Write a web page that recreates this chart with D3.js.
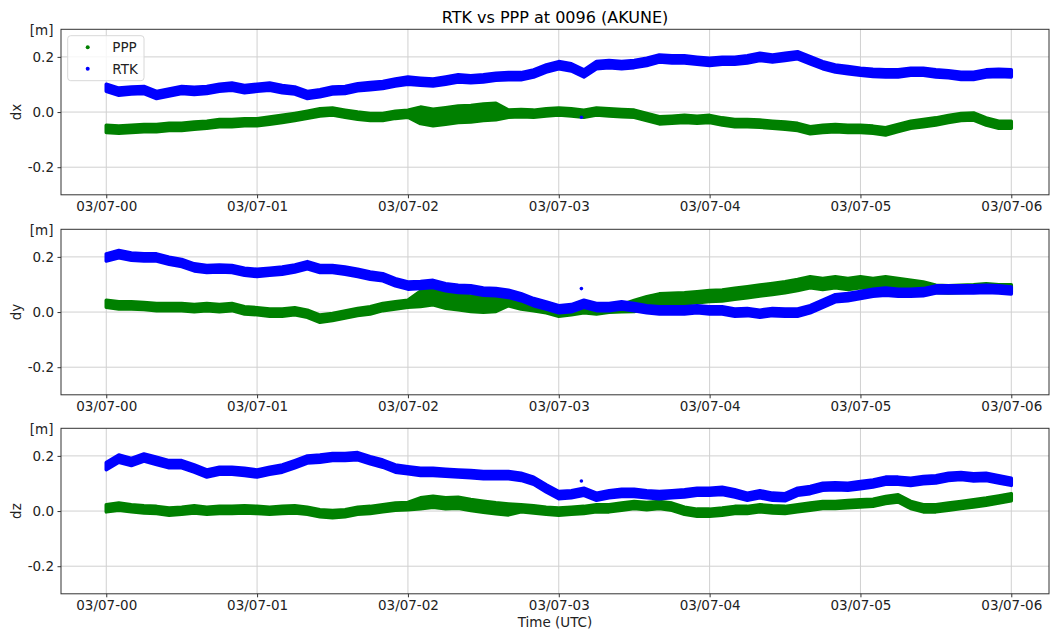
<!DOCTYPE html>
<html>
<head>
<meta charset="utf-8">
<script src="https://cdn.jsdelivr.net/npm/d3@7"></script>
<style>
body{margin:0;background:#fff}
svg{font-family:"DejaVu Sans",sans-serif}
</style>
</head>
<body>
<svg id="chart"></svg>
<script>
let width = 1050, height = 631

// samples every 5 minutes, 03/07 00:00 .. 06:00 UTC
const stepMin = 5
const panels = ["dx", "dy", "dz"]
const seriesNames = ["PPP", "RTK"]

const dxPPP = [-0.061,-0.064,-0.061,-0.058,-0.058,-0.054,-0.054,-0.049,-0.046,-0.040,-0.040,-0.037,-0.037,-0.031,-0.025,-0.018,-0.010,-0.001,0.002,-0.006,-0.013,-0.018,-0.018,-0.010,-0.006,-0.012,-0.020,-0.014,-0.008,-0.006,-0.001,0.002,-0.006,-0.004,-0.006,-0.001,0.002,
  -0.001,-0.006,0.002,-0.001,-0.004,-0.006,-0.018,-0.030,-0.028,-0.025,-0.028,-0.025,-0.034,-0.040,-0.040,-0.042,-0.046,-0.049,-0.054,-0.066,-0.061,-0.058,-0.061,-0.061,-0.064,-0.070,-0.058,-0.046,-0.040,-0.034,-0.025,-0.018,-0.016,-0.034,-0.046,-0.046]
const dxRTK = [0.088,0.074,0.078,0.080,0.062,0.071,0.080,0.077,0.080,0.088,0.092,0.083,0.088,0.092,0.083,0.078,0.062,0.068,0.078,0.080,0.090,0.094,0.098,0.107,0.114,0.110,0.107,0.114,0.122,0.119,0.122,0.128,0.130,0.130,0.140,0.158,0.170,
  0.162,0.140,0.170,0.174,0.170,0.174,0.182,0.194,0.191,0.191,0.186,0.182,0.186,0.186,0.191,0.200,0.194,0.200,0.206,0.188,0.170,0.158,0.152,0.146,0.142,0.140,0.140,0.146,0.146,0.140,0.137,0.131,0.131,0.140,0.142,0.140]
const dyPPP = [0.030,0.024,0.024,0.022,0.018,0.018,0.018,0.014,0.018,0.014,0.018,0.006,0.003,-0.002,-0.002,0.003,-0.006,-0.024,-0.018,-0.009,0.000,0.006,0.018,0.024,0.030,0.048,0.054,0.042,0.036,0.030,0.027,0.030,0.036,0.024,0.018,0.010,-0.002,
  0.003,0.010,0.006,0.012,0.014,0.022,0.036,0.046,0.048,0.050,0.054,0.058,0.060,0.066,0.072,0.078,0.084,0.090,0.098,0.108,0.102,0.108,0.102,0.108,0.102,0.108,0.102,0.102,0.096,0.084,0.082,0.084,0.086,0.090,0.086,0.086]
const dyRTK = [0.198,0.210,0.201,0.198,0.198,0.186,0.178,0.162,0.156,0.158,0.156,0.146,0.142,0.146,0.150,0.158,0.170,0.156,0.156,0.150,0.142,0.132,0.126,0.108,0.096,0.098,0.102,0.090,0.084,0.082,0.074,0.072,0.066,0.054,0.036,0.024,0.010,
  0.014,0.030,0.018,0.018,0.024,0.018,0.010,0.006,0.006,0.006,0.010,0.006,0.006,-0.002,0.000,-0.006,0.000,-0.002,-0.002,0.010,0.030,0.050,0.054,0.062,0.070,0.074,0.070,0.070,0.072,0.082,0.082,0.082,0.082,0.084,0.082,0.078]
const dzPPP = [0.010,0.016,0.010,0.006,0.004,-0.002,0.001,0.006,0.001,0.004,0.004,0.006,0.004,0.001,0.004,0.006,0.001,-0.008,-0.011,-0.008,0.001,0.004,0.010,0.016,0.018,0.028,0.034,0.028,0.030,0.022,0.016,0.010,0.006,0.010,0.006,0.001,-0.002,
  0.001,0.004,0.010,0.010,0.016,0.022,0.018,0.022,0.016,0.001,-0.006,-0.006,-0.002,0.004,0.004,0.010,0.006,0.004,0.010,0.016,0.022,0.022,0.025,0.028,0.030,0.040,0.046,0.022,0.010,0.010,0.016,0.022,0.028,0.034,0.042,0.050]
const dzRTK = [0.163,0.190,0.178,0.194,0.182,0.170,0.170,0.154,0.136,0.146,0.146,0.142,0.136,0.146,0.154,0.170,0.187,0.190,0.196,0.196,0.199,0.184,0.172,0.154,0.148,0.142,0.142,0.139,0.136,0.134,0.130,0.130,0.130,0.124,0.110,0.082,0.058,
  0.061,0.070,0.052,0.061,0.066,0.066,0.061,0.058,0.061,0.064,0.070,0.070,0.073,0.064,0.052,0.061,0.052,0.050,0.070,0.076,0.088,0.090,0.088,0.094,0.100,0.110,0.110,0.106,0.112,0.115,0.124,0.127,0.122,0.124,0.115,0.106]

// scatter spread (half width, m): base plus noisy stretches [from h, to h, half width]
const baseSpread = 0.013
const noisePPP = {dx: [[2.05, 2.6, 0.03]], dy: [[2.05, 2.6, 0.028], [3.5, 5.3, 0.02]], dz: [[2.05, 2.7, 0.02]]}
const noiseRTK = {dx: [], dy: [], dz: []}

// stray RTK fixes [hour, value]
const strayRTK = {dx: [[3.16, -0.019]], dy: [[3.16, 0.085]], dz: [[3.16, 0.109]]}

const yTicks = [-0.2, 0.0, 0.2]
const colors = {PPP: "green", RTK: "blue"}
const values = {dx: {PPP: dxPPP, RTK: dxRTK}, dy: {PPP: dyPPP, RTK: dyRTK}, dz: {PPP: dzPPP, RTK: dzRTK}}
const noise = {PPP: noisePPP, RTK: noiseRTK}

let svg = d3.select('#chart').attr("width", width).attr("height", height)

const t0 = new Date(Date.UTC(2024, 2, 7, 0, 0))
const left = 61, right = 1049, ph = 165.5
const tops = [29.3, 229.3, 428.3]

let x = d3.scaleUtc()
  .domain([d3.utcMinute.offset(t0, -18), d3.utcMinute.offset(t0, 375.3)])
  .range([left, right])

let tAt = i => d3.utcMinute.offset(t0, i * stepMin)

svg.append("text").attr("x", (left + right) / 2).attr("y", 23)
  .attr("text-anchor", "middle").style("font-size", "16px").text("RTK vs PPP at 0096 (AKUNE)")

panels.forEach((p, k) => {
  let top = tops[k]
  let y = d3.scaleLinear().domain([-0.3, 0.3]).range([top + ph, top])
  let g = svg.append("g")

  // grid
  g.selectAll(".vg").data(x.ticks(d3.utcHour.every(1))).enter().append("line")
    .attr("x1", d => x(d)).attr("x2", d => x(d)).attr("y1", top).attr("y2", top + ph)
    .style("stroke", "#d0d0d0").style("stroke-width", 1)
  g.selectAll(".hg").data(yTicks).enter().append("line")
    .attr("x1", left).attr("x2", right).attr("y1", d => y(d)).attr("y2", d => y(d))
    .style("stroke", "#d0d0d0").style("stroke-width", 1)

  let clip = "clip" + k
  svg.append("clipPath").attr("id", clip).append("rect")
    .attr("x", left).attr("y", top).attr("width", right - left).attr("height", ph)
  let marks = g.append("g").attr("clip-path", `url(#${clip})`)

  seriesNames.forEach(s => {
    let v = values[p][s]
    let spread = i => {
      let h = i * stepMin / 60
      let seg = noise[s][p].find(n => h >= n[0] && h <= n[1])
      return seg ? seg[2] : baseSpread
    }
    let area = d3.area()
      .x((d, i) => x(tAt(i)))
      .y0((d, i) => y(d - spread(i)))
      .y1((d, i) => y(d + spread(i)))
    marks.append("path").datum(v).attr("d", area)
      .style("fill", colors[s]).style("stroke", colors[s])
      .style("stroke-width", 3.5).style("stroke-linejoin", "round").style("stroke-linecap", "round")
  })
  marks.selectAll(".stray").data(strayRTK[p]).enter().append("circle")
    .attr("cx", d => x(d3.utcMinute.offset(t0, d[0] * 60))).attr("cy", d => y(d[1]))
    .attr("r", 1.8).style("fill", colors.RTK)

  // frame
  g.append("rect").attr("x", left).attr("y", top).attr("width", right - left).attr("height", ph)
    .style("fill", "none").style("stroke", "#333").style("stroke-width", 1)

  let xa = g.append("g").attr("transform", `translate(0,${top + ph})`)
    .call(d3.axisBottom(x).ticks(d3.utcHour.every(1)).tickFormat(d3.utcFormat("%m/%d-%H"))
      .tickSize(3.5).tickSizeOuter(0).tickPadding(3.5))
  let ya = g.append("g").attr("transform", `translate(${left},0)`)
    .call(d3.axisLeft(y).tickValues(yTicks).tickFormat(d => d.toFixed(1))
      .tickSize(3.5).tickSizeOuter(0).tickPadding(3.5))
  ;[xa, ya].forEach(a => {
    a.select(".domain").remove()
    a.selectAll("line").style("stroke", "#333")
    a.selectAll("text").style("font-size", "13.5px").style("font-family", "DejaVu Sans").style("fill", "#222")
  })

  svg.append("text").attr("x", 53.5).attr("y", top + 6).attr("text-anchor", "end")
    .style("font-size", "13.5px").style("fill", "#222").text("[m]")
  svg.append("text").attr("transform", `translate(21,${top + ph / 2}) rotate(-90)`)
    .attr("text-anchor", "middle").style("font-size", "13.5px").style("fill", "#222").text(p)
})

svg.append("text").attr("x", (left + right) / 2).attr("y", 627)
  .attr("text-anchor", "middle").style("font-size", "13.5px").style("fill", "#222").text("Time (UTC)")

// legend
let lg = svg.append("g")
lg.append("rect").attr("x", 67.7).attr("y", 35.7).attr("width", 76.3).attr("height", 45).attr("rx", 3)
  .style("fill", "white").style("fill-opacity", 0.8).style("stroke", "#d8d8d8")
seriesNames.forEach((s, i) => {
  lg.append("circle").attr("cx", 87.7).attr("cy", 47.3 + i * 21.4).attr("r", 2).style("fill", colors[s])
  lg.append("text").attr("x", 112.3).attr("y", 52.3 + i * 21.4).style("font-size", "13.5px").style("fill", "#222").text(s)
})
</script>
</body>
</html>
